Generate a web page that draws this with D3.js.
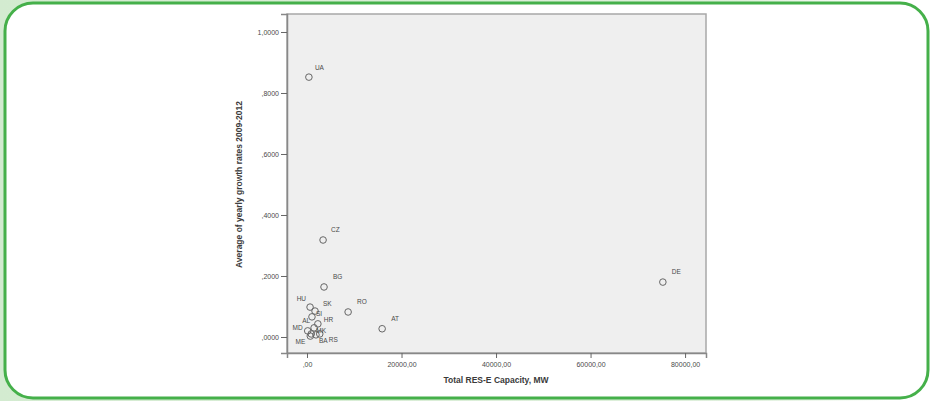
<!DOCTYPE html>
<html><head><meta charset="utf-8">
<script src="https://cdn.jsdelivr.net/npm/d3@7"></script>
<style>
html,body{margin:0;padding:0;background:#fff;}
svg{display:block;font-family:"Liberation Sans",Arial,sans-serif;}
</style></head>
<body>
<svg id="chart" width="934" height="401"></svg>
<script>
// Data
const countries = ["UA","CZ","BG","RO","AT","DE","HU","SK","SI","HR","AL","MD","MK","ME","BA","RS"];
const capacityMW = [400,3400,3600,8700,15900,75300,650,1700,1050,2300,1500,150,900,700,1900,2700];
const growthRate = [0.852,0.318,0.164,0.082,0.027,0.180,0.098,0.085,0.066,0.043,0.030,0.020,0.010,0.003,0.007,0.010];
// label placement (dx, dy, anchor) relative to the marker
const labelDx = [6,8,9,9,9,9,-4,8,4,6,-4,-5,5,-5,3,9];
const labelDy = [-7,-8,-8,-8,-8,-8,-6,-5,-1,-2,-5,-1,-1,8,8,8];
const labelAnchor = ["start","start","start","start","start","start","end","start","start","start","end","end","start","end","start","start"];
const xTicks = [0,20000,40000,60000,80000];
const xTickLabels = [",00","20000,00","40000,00","60000,00","80000,00"];
const yTicks = [0,0.2,0.4,0.6,0.8,1.0];
const yTickLabels = [",0000",",2000",",4000",",6000",",8000","1,0000"];
const xTitle = "Total RES-E Capacity, MW";
const yTitle = "Average of yearly growth rates 2009-2012";

const svg = d3.select("#chart");
const defs = svg.append("defs");
const grad = defs.append("linearGradient").attr("id","bg").attr("x1","0").attr("x2","1").attr("y1","0").attr("y2","0");
grad.append("stop").attr("offset","0").attr("stop-color","#d3ebd0");
grad.append("stop").attr("offset","0.8").attr("stop-color","#dff0dc");
grad.append("stop").attr("offset","0.95").attr("stop-color","#ffffff");
svg.append("rect").attr("x",0).attr("y",0).attr("width",934).attr("height",401).attr("fill","url(#bg)");
svg.append("rect").attr("x",5).attr("y",3).attr("width",923).attr("height",395).attr("rx",28).attr("ry",28)
  .attr("fill","#fff").attr("stroke","#45b04a").attr("stroke-width",3);

const L=287,R=706,T=14,B=353;
const x = d3.scaleLinear().domain([-4232,84430]).range([L,R]);
const y = d3.scaleLinear().domain([-0.0525,1.059]).range([B,T]);

svg.append("rect").attr("x",L).attr("y",T).attr("width",R-L).attr("height",B-T)
  .attr("fill","#efefef").attr("stroke","#a8a8a8").attr("stroke-width",1.5);

const fmtX = d => xTickLabels[xTicks.indexOf(d)];
const fmtY = d => yTickLabels[yTicks.indexOf(d)];

const xAxis = svg.append("g").attr("transform",`translate(0,${B})`)
  .call(d3.axisBottom(x).tickValues(xTicks).tickFormat(fmtX).tickSize(5).tickPadding(4));
const yAxis = svg.append("g").attr("transform",`translate(${L},0)`)
  .call(d3.axisLeft(y).tickValues(yTicks).tickFormat(fmtY).tickSize(6).tickPadding(2));
[xAxis,yAxis].forEach(a=>{
  a.select(".domain").attr("stroke","#888").attr("stroke-width",1.5);
  a.selectAll(".tick line").attr("stroke","#666");
  a.selectAll(".tick text").attr("fill","#4a4a4a").attr("font-size","7px").attr("font-family","Liberation Sans, Arial, sans-serif");
});

svg.append("text").attr("x",(x(0)+x(80000))/2).attr("y",383).attr("text-anchor","middle")
  .attr("font-size","8.5px").attr("font-weight","bold").attr("fill","#3a3a3a").text(xTitle);
svg.append("text").attr("transform",`translate(242,${(y(0)+y(1))/2}) rotate(-90)`).attr("text-anchor","middle")
  .attr("font-size","8.5px").attr("font-weight","bold").attr("fill","#3a3a3a").text(yTitle);

const pts = countries.map((c,i)=>({c,x:capacityMW[i],y:growthRate[i],dx:labelDx[i],dy:labelDy[i],a:labelAnchor[i]}));
svg.append("g").selectAll("circle").data(pts).join("circle")
  .attr("cx",d=>x(d.x)).attr("cy",d=>y(d.y)).attr("r",3.3)
  .attr("fill","none").attr("stroke","#666").attr("stroke-width",1);
svg.append("g").selectAll("text").data(pts).join("text")
  .attr("x",d=>x(d.x)+d.dx).attr("y",d=>y(d.y)+d.dy).attr("text-anchor",d=>d.a)
  .attr("font-size","6.5px").attr("fill","#4a4a4a").text(d=>d.c);
</script>
</body></html>
